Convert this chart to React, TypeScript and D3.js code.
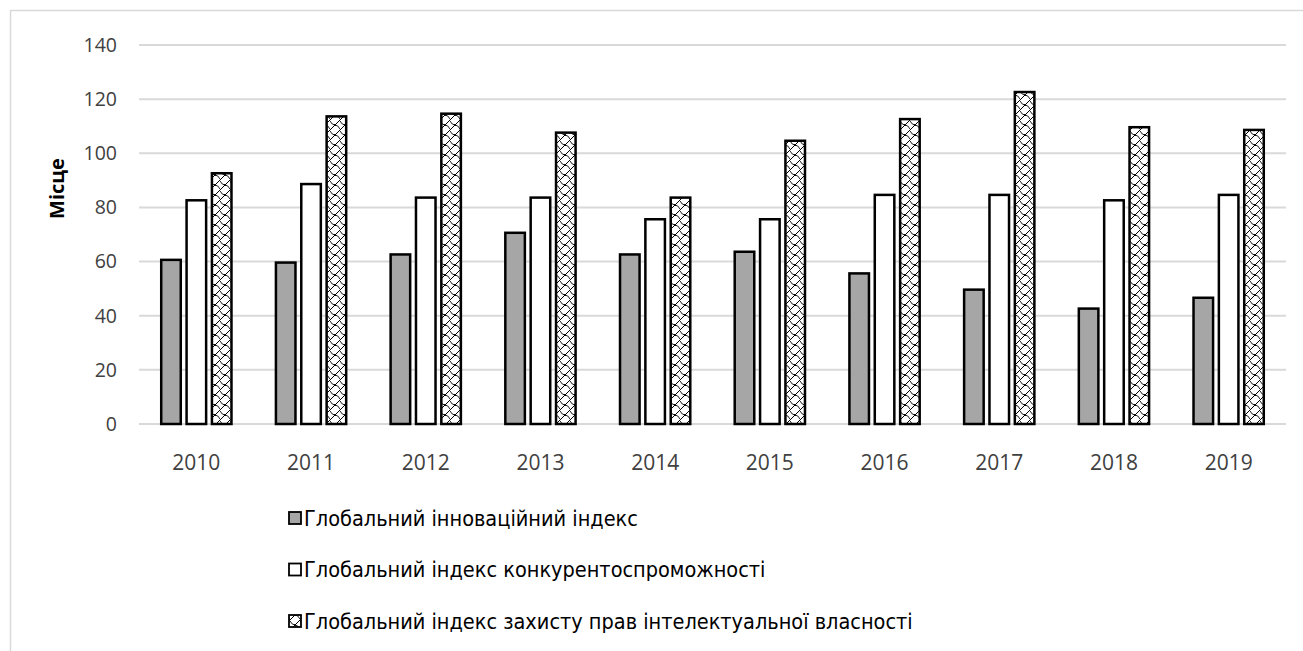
import React from 'react';
import * as d3 from 'd3';

const years = ['2010', '2011', '2012', '2013', '2014', '2015', '2016', '2017', '2018', '2019'];
const seriesNames = [
  'Глобальний інноваційний індекс',
  'Глобальний індекс конкурентоспроможності',
  'Глобальний індекс захисту прав інтелектуальної власності',
];
const innovation = [61, 60, 63, 71, 63, 64, 56, 50, 43, 47];
const competitiveness = [83, 89, 84, 84, 76, 76, 85, 85, 83, 85];
const ipRights = [93, 114, 115, 108, 84, 105, 113, 123, 110, 109];
const yTicks = [0, 20, 40, 60, 80, 100, 120, 140];

const seriesValues = [innovation, competitiveness, ipRights];
const fills = ['#a6a6a6', '#ffffff', 'url(#hatch)'];

const W = 1303;
const H = 651;
const left = 139;
const right = 1286;
const top = 45;
const bottom = 424;

const App = () => {
  const x0 = d3.scaleBand().domain(years).range([left, right]).padding(0);
  const groupW = x0.bandwidth() * 0.63;
  const x1 = d3.scaleBand().domain(['0', '1', '2']).range([0, groupW]).paddingInner(0.15).paddingOuter(0);
  const y = d3.scaleLinear().domain([0, 140]).range([bottom, top]);

  const font = "'Liberation Sans Narrow', 'DejaVu Sans Condensed', 'Liberation Sans', sans-serif";
  const tickFont = "'Open Sans', 'DejaVu Sans', sans-serif";

  return (
    <svg width={W} height={H} style={{ position: 'absolute', left: 0, top: 0, background: '#fff' }}>
      <defs>
        <pattern id="hatch" patternUnits="userSpaceOnUse" width="10" height="10">
          <rect width="10" height="10" fill="#fff" />
          <path d="M0,10 L10,0" stroke="#000" strokeWidth="1" fill="none" />
          <path d="M0,1 Q2,5 5,5 Q8,5 10,9" stroke="#000" strokeWidth="0.9" fill="none" />
          <circle cx="5" cy="5" r="1.1" fill="#000" />
        </pattern>
      </defs>

      {/* рамка */}
      <path d={`M10.5,${H} L10.5,10.5 L${W},10.5`} fill="none" stroke="#d9d9d9" strokeWidth="1.5" />

      {/* сітка */}
      {yTicks.map(t => (
        <g key={t}>
          <line x1={left} x2={right} y1={y(t)} y2={y(t)} stroke="#d9d9d9" strokeWidth="2" />
          <text x={117} y={y(t)} dy="0.35em" textAnchor="end" fontFamily={tickFont} fontSize="19.5" fill="#404040">{t}</text>
        </g>
      ))}

      <text transform={`translate(64,${(top + bottom) / 2 - 46}) rotate(-90)`} textAnchor="middle"
        fontFamily="'Open Sans', 'DejaVu Sans', sans-serif" fontWeight="bold" fontSize="20" fill="#000">Місце</text>

      {/* стовпці */}
      {years.map((yr, i) => {
        const gx = (x0(yr) as number) + (x0.bandwidth() - groupW) / 2;
        return (
          <g key={yr}>
            {seriesValues.map((vals, s) => {
              const bx = gx + (x1(String(s)) as number);
              const bw = x1.bandwidth();
              return (
                <rect key={s} x={bx + 1} y={y(vals[i]) + 1} width={bw - 2} height={bottom - y(vals[i]) - 1}
                  fill={fills[s]} stroke="#000" strokeWidth="2.5" />
              );
            })}
            <text x={(x0(yr) as number) + x0.bandwidth() / 2} y={463} dy="0.35em" textAnchor="middle"
              fontFamily={tickFont} fontSize="21" fill="#404040">{yr}</text>
          </g>
        );
      })}

      {/* легенда */}
      {seriesNames.map((name, s) => {
        const ly = 518 + s * 51.5;
        return (
          <g key={name}>
            <rect x={289} y={ly - 6} width={12} height={12} fill={fills[s]} stroke="#000" strokeWidth="1.8" />
            <text x={304} y={ly} dy="0.35em" fontFamily={font} fontSize="21.5" fill="#000">{name}</text>
          </g>
        );
      })}
    </svg>
  );
};

export default App;
